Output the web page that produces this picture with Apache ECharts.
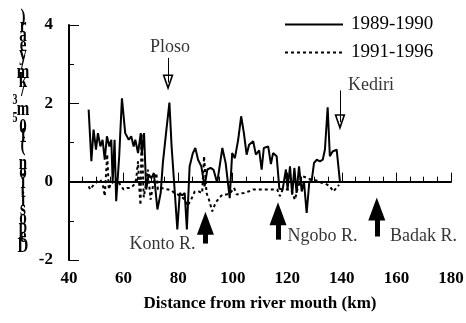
<!DOCTYPE html>
<html>
<head>
<meta charset="utf-8">
<script src="https://cdn.jsdelivr.net/npm/echarts@6/dist/echarts.min.js"></script>
<style>
  html, body { margin: 0; padding: 0; background: #fff; }
  #chart { width: 466px; height: 323px; }
</style>
</head>
<body>
<div id="chart"></div>
<script>
const serif = '"Liberation Serif", "Times New Roman", serif'

// 1989-1990 (solid)
const dist8990 = [47.2, 48.2, 49.0, 49.9, 50.6, 51.5, 52.3, 53.1, 53.9, 54.8, 55.5, 56.0, 56.7, 57.3, 58.4, 59.4, 60.6, 61.9, 62.8, 63.7,
  64.3, 65.3, 66.3, 66.7, 67.5, 68.3, 69.2, 70.2, 71.1, 72.4, 73.6, 74.4, 75.7, 76.8, 77.6, 78.7, 79.7, 80.6, 81.5, 82.4,
  83.2, 84.2, 85.4, 86.3, 87.3, 88.5, 89.7, 90.7, 91.9, 93.0, 94.3, 95.0, 96.2, 97.4, 98.9, 99.8, 100.8, 102.0, 103.1, 104.1,
  105.1, 106.0, 107.5, 108.5, 109.7, 110.6, 111.4, 113.0, 114.0, 114.8, 116.1, 117.1, 118.3, 119.5, 120.1, 121.0, 121.8, 122.6, 123.4, 124.3,
  125.3, 126.1, 127.1, 128.1, 128.9, 129.8, 130.8, 132.0, 133.0, 133.8, 134.8, 135.6, 136.6, 138.1, 139.3]
const dep8990 = [1.84, 0.52, 1.33, 0.82, 1.24, 0.9, 1.07, 0.56, 1.16, 0.9, 1.07, 0.0, 1.07, -0.5, 0.65, 2.13, 1.24, 1.07, 1.16, 0.9,
  1.07, 0.73, 1.24, 0.73, 1.24, -0.2, 0.18, 0.09, 0.22, -0.71, -0.29, 0.48, 1.33, 2.02, 0.9, -0.2, -1.22, -0.29, -0.35, -0.29,
  -1.22, 0.39, 0.73, 0.86, 0.56, 0.39, -0.12, 0.31, 0.35, 0.3, -0.03, -0.02, 0.86, 0.48, -0.42, 0.73, 0.6, 1.07, 1.67, 1.24,
  0.69, 0.94, 1.03, 0.69, 0.8, 0.31, 0.86, 0.9, 0.45, 0.73, 0.65, -0.18, -0.2, 0.31, -0.2, 0.39, -0.33, 0.35, -0.29, 0.39,
  -0.25, 0.01, -0.8, 0.01, 0.0, 0.48, 0.56, 0.52, 0.56, 0.82, 1.9, 0.65, 0.77, 0.82, 0.0]

// 1991-1996 (dotted)
const dist9196 = [47.2, 47.8, 49.0, 50.3, 51.5, 52.4, 53.1, 54.0, 54.6, 55.5, 56.5, 57.6, 58.8, 60.0, 61.2, 62.5, 63.6, 64.6, 65.3, 65.8,
  66.2, 66.6, 67.4, 68.3, 68.9, 69.9, 70.8, 72.0, 72.6, 73.8, 75.0, 76.3, 77.5, 78.7, 79.9, 81.1, 82.4, 83.4, 84.8, 86.1,
  87.5, 88.8, 89.5, 90.4, 91.3, 92.5, 93.7, 95.0, 96.2, 97.6, 99.0, 100.5, 101.5, 102.8, 104.1, 105.8, 107.5, 109.5, 111.5, 113.5,
  115.5, 116.3, 117.3, 118.3, 120.0, 121.5, 122.8, 123.7, 125.3, 127.0, 128.9, 130.7, 132.6, 134.0, 135.6, 136.9, 139.0]
const dep9196 = [-0.12, -0.2, -0.08, 0.0, 0.05, -0.08, -0.37, 0.7, -0.2, 0.0, -0.05, 0.05, -0.08, -0.2, -0.16, -0.16, -0.1, 0.05, 0.52, -0.2,
  -0.6, 1.24, -0.4, -0.03, 0.31, -0.46, -0.1, 0.22, -0.2, -0.16, -0.18, -0.2, -0.22, -0.29, -0.33, -0.37, -0.46, -0.62, -0.45, -0.25,
  -0.25, -0.29, 0.65, -0.29, -0.46, -0.76, -0.54, -0.42, -0.33, -0.33, -0.3, -0.16, -0.33, -0.3, -0.29, -0.25, -0.2, -0.2, -0.2, -0.2,
  -0.2, -0.2, -0.37, -0.2, -0.2, -0.22, -0.46, -0.2, 0.15, 0.1, 0.05, 0.03, -0.03, -0.05, -0.12, -0.25, -0.08]

// 地名标注 (空心箭头)
const placeNames = ['Ploso', 'Kediri']
const placeLabelX = [77.0, 150.7]
const placeLabelY = [3.44, 2.47]
const placeArrowX = [76.3, 139.3]
const placeArrowTop = [3.16, 2.33]
const placeArrowHead = [2.53, 1.52]

// 支流标注 (实心箭头)
const riverNames = ['Konto R.', 'Ngobo R.', 'Badak R.']
const riverLabelX = [74.3, 132.9, 169.9]
const riverLabelY = [-1.61, -1.40, -1.40]
const riverArrowX = [90.0, 116.6, 152.8]
const riverArrowBase = [-1.58, -1.48, -1.40]
const riverArrowHead = [-1.06, -0.82, -0.70]

const yTitle = 'Deposition (10⁵m³/km/year)'

const zip = (xs, ys) => xs.map((x, i) => [x, ys[i]])
const hollowArrow = 'path://M5,0 L10,16 L0,16 Z M5,5 L2,14.5 L8,14.5 Z'

// 纵轴标题: 字符竖排 (自下而上)
const supMap = { '⁵': '{s|5}', '³': '{s|3}' }
const yTitleText = Array.from(yTitle).reverse().map(c => supMap[c] || c).join('\n')

const chart = echarts.init(document.getElementById('chart'), null, { renderer: 'canvas' })

const option = {
  animation: false,
  backgroundColor: '#fff',
  textStyle: { fontFamily: serif, color: '#000' },
  grid: { left: 69, right: 15, top: 25, bottom: 63, outerBoundsMode: 'none' },
  legend: {
    data: ['1989-1990', '1991-1996'],
    orient: 'vertical',
    left: 284, top: 15,
    itemWidth: 58, itemHeight: 14, itemGap: 9,
    padding: 0,
    itemStyle: { opacity: 0 },
    textStyle: { fontFamily: serif, fontSize: 19, color: '#000', padding: [0, 0, 0, 3] },
  },
  graphic: [{
    type: 'text',
    x: 23, y: 13,
    scaleY: 1.45,
    style: {
      text: yTitleText,
      font: 'bold 15px ' + serif,
      lineHeight: 6.3,
      fill: '#000',
      align: 'center',
      verticalAlign: 'top',
      rich: {
        s: { fontSize: 10, fontWeight: 'bold', fontFamily: serif, lineHeight: 6.3, padding: [0, 16, 0, 0] },
      },
    },
  }],
  xAxis: {
    type: 'value',
    min: 40, max: 180, interval: 20,
    name: 'Distance from river mouth (km)',
    nameLocation: 'middle', nameGap: 35,
    nameTextStyle: { fontFamily: serif, fontWeight: 'bold', fontSize: 17, color: '#000' },
    axisLine: { lineStyle: { color: '#000', width: 2 } },
    axisTick: { inside: true, length: 9, lineStyle: { color: '#000', width: 1 } },
    minorTick: { show: true, splitNumber: 4, length: 5, lineStyle: { color: '#000', width: 1 } },
    axisLabel: { fontFamily: serif, fontWeight: 'bold', fontSize: 17, color: '#000', margin: 10 },
    splitLine: { show: false },
  },
  yAxis: {
    type: 'value',
    min: -2, max: 4, interval: 2,
    axisLine: { show: true, lineStyle: { color: '#000', width: 2 } },
    axisTick: { show: true, inside: true, length: 10, lineStyle: { color: '#000', width: 1 } },
    minorTick: { show: true, splitNumber: 2, length: 5, lineStyle: { color: '#000', width: 1 } },
    axisLabel: { fontFamily: serif, fontWeight: 'bold', fontSize: 17, color: '#000', margin: 16 },
    splitLine: { show: false },
  },
  series: [
    {
      name: '1989-1990', type: 'line',
      data: zip(dist8990, dep8990),
      showSymbol: false, symbol: 'none',
      lineStyle: { color: '#000', width: 2 },
      itemStyle: { color: '#000' },
      z: 4,
      markLine: {
        silent: true, symbol: 'none',
        label: { show: false },
        lineStyle: { color: '#000', width: 1, type: 'solid' },
        data: [{ yAxis: 0 }],
      },
    },
    {
      name: '1991-1996', type: 'line',
      data: zip(dist9196, dep9196),
      showSymbol: false, symbol: 'none',
      lineStyle: { color: '#000', width: 2, type: [3, 3] },
      itemStyle: { color: '#000' },
      z: 3,
    },
    // ── 地名 + 空心箭头 ──
    {
      type: 'scatter', symbolSize: 0,
      data: placeNames.map((n, i) => ({ name: n, value: [placeLabelX[i], placeLabelY[i]] })),
      label: { show: true, position: 'inside', formatter: '{b}', fontFamily: serif, fontSize: 18, color: '#000' },
      markLine: {
        silent: true,
        symbol: ['none', hollowArrow], symbolSize: [11, 16],
        label: { show: false },
        lineStyle: { color: '#000', width: 1, type: 'solid' },
        data: placeNames.map((n, i) => [
          { coord: [placeArrowX[i], placeArrowTop[i]] },
          { coord: [placeArrowX[i], placeArrowHead[i]] },
        ]),
      },
    },
    // ── 支流 + 实心箭头 ──
    {
      type: 'scatter', symbolSize: 0,
      data: riverNames.map((n, i) => ({ name: n, value: [riverLabelX[i], riverLabelY[i]] })),
      label: { show: true, position: 'inside', formatter: '{b}', fontFamily: serif, fontSize: 18, color: '#000' },
      markLine: {
        silent: true,
        symbol: ['none', 'triangle'], symbolSize: [17, 23],
        label: { show: false },
        lineStyle: { color: '#000', width: 5, type: 'solid', cap: 'butt' },
        data: riverNames.map((n, i) => [
          { coord: [riverArrowX[i], riverArrowBase[i]] },
          { coord: [riverArrowX[i], riverArrowHead[i]] },
        ]),
      },
    },
  ],
}

chart.setOption(option)
</script>
</body>
</html>
